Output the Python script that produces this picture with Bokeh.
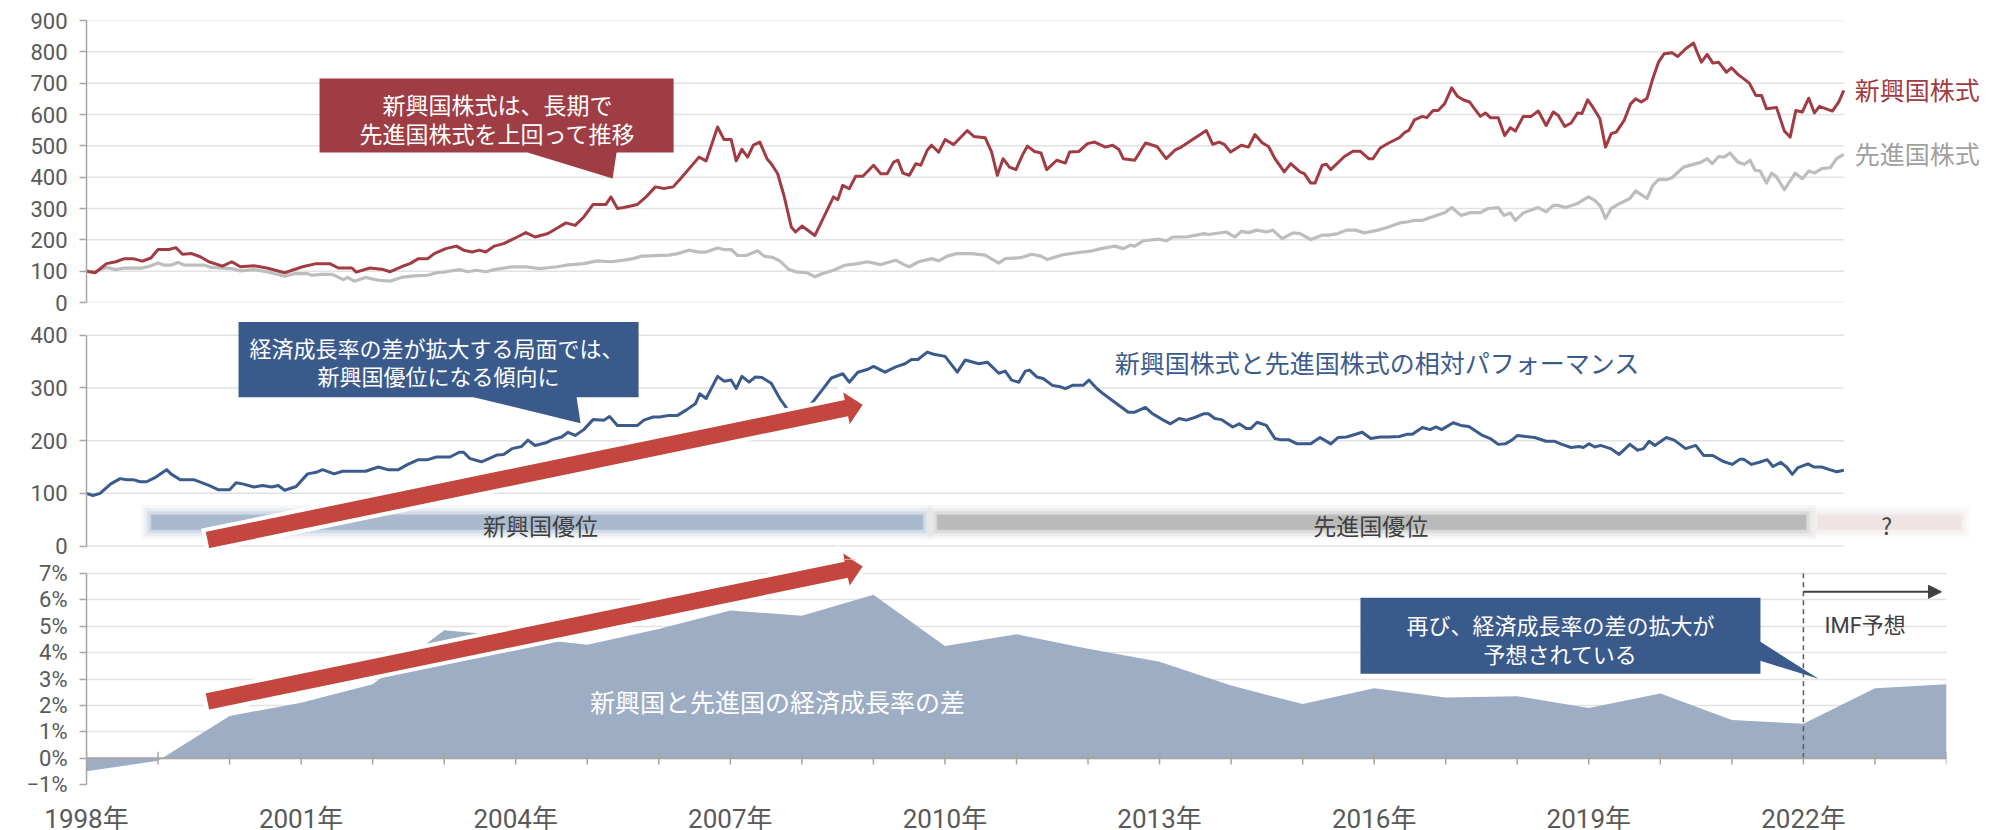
import math
from bokeh.plotting import figure
from bokeh.layouts import column
from bokeh.models import Range1d, FixedTicker, Label, Span, Arrow, NormalHead
from bokeh.embed import file_html
from bokeh.resources import INLINE

# ---------------------------------------------------------------- data
em_dates = [1998.00, 1998.12, 1998.28, 1998.41, 1998.53, 1998.65, 1998.78, 1998.90, 1999.00, 1999.15,
            1999.25, 1999.34, 1999.47, 1999.59, 1999.71, 1999.90, 2000.03, 2000.15, 2000.34, 2000.52,
            2000.77, 2001.02, 2001.21, 2001.40, 2001.52, 2001.71, 2001.77, 2001.96, 2002.15, 2002.24,
            2002.40, 2002.52, 2002.64, 2002.77, 2002.86, 2003.02, 2003.17, 2003.27, 2003.39, 2003.49,
            2003.58, 2003.70, 2003.83, 2004.02, 2004.14, 2004.27, 2004.45, 2004.58, 2004.70, 2004.83,
            2004.95, 2005.08, 2005.26, 2005.33, 2005.42, 2005.51, 2005.70, 2005.82, 2005.95, 2006.07,
            2006.20, 2006.32, 2006.56, 2006.66, 2006.82, 2006.91, 2007.01, 2007.08, 2007.16, 2007.24,
            2007.32, 2007.41, 2007.51, 2007.57, 2007.66, 2007.75, 2007.85, 2007.91, 2008.00, 2008.18,
            2008.25, 2008.44, 2008.50, 2008.57, 2008.66, 2008.75, 2008.85, 2009.00, 2009.10, 2009.19,
            2009.28, 2009.34, 2009.41, 2009.50, 2009.59, 2009.66, 2009.75, 2009.81, 2009.91, 2010.00,
            2010.12, 2010.31, 2010.40, 2010.56, 2010.65, 2010.73, 2010.81, 2010.90, 2010.99, 2011.09,
            2011.15, 2011.25, 2011.34, 2011.42, 2011.56, 2011.68, 2011.74, 2011.87, 2011.99, 2012.09,
            2012.24, 2012.34, 2012.43, 2012.49, 2012.65, 2012.80, 2012.96, 2013.09, 2013.21, 2013.30,
            2013.65, 2013.74, 2013.83, 2013.90, 2013.99, 2014.14, 2014.24, 2014.33, 2014.43, 2014.52,
            2014.61, 2014.74, 2014.83, 2014.96, 2015.02, 2015.11, 2015.17, 2015.27, 2015.33, 2015.39,
            2015.58, 2015.70, 2015.80, 2015.92, 2015.98, 2016.08, 2016.20, 2016.35, 2016.43, 2016.48,
            2016.56, 2016.67, 2016.73, 2016.82, 2016.89, 2016.98, 2017.08, 2017.16, 2017.24, 2017.33,
            2017.40, 2017.48, 2017.55, 2017.62, 2017.73, 2017.82, 2017.90, 2017.97, 2018.08, 2018.19,
            2018.29, 2018.40, 2018.50, 2018.57, 2018.66, 2018.75, 2018.84, 2018.90, 2018.98, 2019.05,
            2019.15, 2019.23, 2019.31, 2019.38, 2019.49, 2019.58, 2019.65, 2019.73, 2019.81, 2019.89,
            2019.97, 2020.05, 2020.16, 2020.24, 2020.35, 2020.46, 2020.51, 2020.57, 2020.65, 2020.73,
            2020.81, 2020.92, 2020.99, 2021.08, 2021.24, 2021.33, 2021.41, 2021.48, 2021.62, 2021.73,
            2021.81, 2021.89, 2021.98, 2022.07, 2022.15, 2022.22, 2022.40, 2022.49, 2022.56]
em_values = [100, 95, 124, 130, 140, 140, 132, 142, 169, 169,
             175, 154, 156, 146, 130, 116, 130, 114, 117, 110,
             95, 114, 124, 124, 110, 110, 97, 110, 105, 98,
             114, 124, 140, 140, 156, 172, 180, 167, 161, 167,
             161, 180, 188, 209, 223, 209, 220, 238, 254, 246,
             273, 313, 313, 337, 300, 303, 313, 337, 369, 364,
             369, 400, 464, 452, 560, 520, 520, 452, 489, 464,
             502, 512, 459, 443, 411, 339, 241, 225, 244, 214,
             247, 337, 328, 374, 363, 403, 403, 438, 411, 411,
             448, 454, 413, 406, 443, 438, 486, 502, 480, 520,
             504, 549, 530, 526, 480, 406, 459, 432, 424, 475,
             499, 482, 477, 424, 454, 445, 480, 482, 507, 512,
             496, 502, 488, 459, 454, 509, 498, 459, 486, 496,
             549, 505, 512, 505, 480, 502, 496, 536, 510, 498,
             459, 417, 443, 417, 411, 381, 381, 438, 441, 424,
             466, 483, 483, 459, 459, 493, 509, 526, 544, 549,
             583, 594, 590, 613, 613, 634, 685, 658, 647, 640,
             618, 594, 605, 590, 590, 533, 558, 547, 594, 594,
             611, 565, 608, 597, 562, 573, 605, 603, 647, 624,
             587, 496, 539, 544, 581, 634, 650, 640, 652, 714,
             767, 794, 797, 785, 810, 828, 799, 767, 792, 764,
             767, 735, 749, 728, 700, 661, 661, 618, 622, 547,
             528, 613, 608, 652, 605, 626, 611, 640, 677]

dm_dates = [1998.00, 1998.12, 1998.28, 1998.41, 1998.53, 1998.78, 1998.90, 1999.00, 1999.09, 1999.18,
            1999.28, 1999.37, 1999.65, 1999.75, 2000.03, 2000.15, 2000.34, 2000.52, 2000.77, 2000.90,
            2001.09, 2001.15, 2001.27, 2001.43, 2001.59, 2001.65, 2001.74, 2001.90, 2002.08, 2002.24,
            2002.40, 2002.58, 2002.77, 2002.89, 2003.02, 2003.21, 2003.33, 2003.45, 2003.58, 2003.70,
            2003.95, 2004.14, 2004.33, 2004.58, 2004.70, 2004.95, 2005.14, 2005.33, 2005.51, 2005.64,
            2005.76, 2006.14, 2006.26, 2006.42, 2006.56, 2006.66, 2006.82, 2006.91, 2007.01, 2007.10,
            2007.22, 2007.38, 2007.47, 2007.60, 2007.69, 2007.82, 2007.91, 2008.07, 2008.18, 2008.28,
            2008.44, 2008.60, 2008.78, 2008.91, 2009.10, 2009.31, 2009.44, 2009.50, 2009.63, 2009.81,
            2009.91, 2010.03, 2010.16, 2010.37, 2010.56, 2010.75, 2010.84, 2011.06, 2011.21, 2011.34,
            2011.43, 2011.62, 2011.81, 2012.06, 2012.18, 2012.37, 2012.49, 2012.59, 2012.65, 2012.77,
            2012.99, 2013.09, 2013.18, 2013.37, 2013.62, 2013.68, 2013.93, 2014.05, 2014.14, 2014.24,
            2014.36, 2014.49, 2014.58, 2014.71, 2014.86, 2014.96, 2015.11, 2015.27, 2015.36, 2015.49,
            2015.61, 2015.74, 2015.86, 2016.05, 2016.20, 2016.35, 2016.45, 2016.56, 2016.67, 2016.78,
            2016.99, 2017.08, 2017.21, 2017.35, 2017.48, 2017.59, 2017.73, 2017.81, 2017.90, 2017.97,
            2018.08, 2018.29, 2018.40, 2018.50, 2018.57, 2018.67, 2018.84, 2018.99, 2019.08, 2019.16,
            2019.23, 2019.31, 2019.43, 2019.57, 2019.65, 2019.81, 2019.89, 2019.97, 2020.08, 2020.16,
            2020.32, 2020.57, 2020.65, 2020.72, 2020.81, 2020.89, 2020.97, 2021.08, 2021.17, 2021.25,
            2021.32, 2021.39, 2021.48, 2021.55, 2021.62, 2021.73, 2021.88, 2021.98, 2022.07, 2022.15,
            2022.25, 2022.37, 2022.46, 2022.56]
dm_values = [100, 98, 112, 105, 110, 110, 117, 126, 119, 119,
             128, 119, 119, 112, 108, 101, 105, 98, 84, 92,
             92, 87, 90, 90, 73, 80, 68, 80, 71, 68,
             80, 85, 87, 95, 98, 105, 98, 103, 98, 105,
             114, 114, 108, 114, 119, 124, 133, 130, 135, 140,
             148, 151, 156, 167, 161, 161, 174, 169, 169, 150,
             150, 165, 148, 143, 133, 105, 98, 95, 82, 92,
             103, 119, 124, 130, 121, 135, 119, 114, 130, 140,
             133, 148, 156, 156, 151, 126, 140, 143, 154, 148,
             137, 151, 158, 165, 172, 180, 172, 183, 180, 197,
             202, 197, 209, 209, 220, 217, 225, 209, 227, 223,
             231, 225, 231, 204, 222, 220, 201, 215, 215, 220,
             231, 231, 222, 231, 241, 254, 257, 262, 262, 271,
             287, 303, 278, 287, 287, 300, 303, 278, 286, 262,
             286, 303, 289, 310, 310, 303, 316, 337, 326, 307,
             268, 300, 316, 332, 356, 332, 374, 392, 392, 398,
             432, 448, 459, 443, 466, 464, 477, 448, 441, 454,
             422, 420, 381, 413, 401, 360, 413, 395, 420, 413,
             427, 430, 459, 473]

rel_dates = [1998.00, 1998.09, 1998.19, 1998.34, 1998.47, 1998.56, 1998.65, 1998.75, 1998.84, 1998.97,
             1999.12, 1999.18, 1999.31, 1999.50, 1999.71, 1999.84, 2000.00, 2000.09, 2000.18, 2000.34,
             2000.46, 2000.59, 2000.68, 2000.77, 2000.93, 2001.09, 2001.21, 2001.30, 2001.46, 2001.58,
             2001.90, 2002.08, 2002.21, 2002.36, 2002.49, 2002.64, 2002.77, 2002.89, 2003.08, 2003.21,
             2003.27, 2003.36, 2003.52, 2003.64, 2003.74, 2003.83, 2003.95, 2004.08, 2004.17, 2004.27,
             2004.42, 2004.51, 2004.64, 2004.73, 2004.83, 2004.95, 2005.08, 2005.23, 2005.31, 2005.42,
             2005.57, 2005.70, 2005.79, 2005.92, 2006.01, 2006.14, 2006.26, 2006.38, 2006.51, 2006.57,
             2006.66, 2006.82, 2006.91, 2007.01, 2007.08, 2007.16, 2007.26, 2007.35, 2007.44, 2007.57,
             2007.69, 2007.79, 2007.96, 2008.13, 2008.28, 2008.41, 2008.57, 2008.66, 2008.78, 2008.91,
             2009.00, 2009.16, 2009.31, 2009.44, 2009.53, 2009.62, 2009.75, 2009.84, 2010.00, 2010.17,
             2010.28, 2010.47, 2010.59, 2010.75, 2010.84, 2010.93, 2011.03, 2011.12, 2011.18, 2011.28,
             2011.37, 2011.50, 2011.59, 2011.68, 2011.78, 2011.93, 2012.01, 2012.12, 2012.21, 2012.37,
             2012.56, 2012.65, 2012.80, 2012.90, 2013.05, 2013.15, 2013.27, 2013.37, 2013.49, 2013.61,
             2013.68, 2013.77, 2013.86, 2014.02, 2014.11, 2014.21, 2014.27, 2014.36, 2014.49, 2014.61,
             2014.68, 2014.80, 2014.92, 2015.11, 2015.24, 2015.39, 2015.49, 2015.61, 2015.83, 2015.95,
             2016.08, 2016.20, 2016.35, 2016.45, 2016.53, 2016.67, 2016.78, 2016.86, 2016.94, 2017.10,
             2017.21, 2017.32, 2017.51, 2017.62, 2017.73, 2017.83, 2017.92, 2018.00, 2018.11, 2018.24,
             2018.40, 2018.51, 2018.62, 2018.75, 2018.86, 2018.92, 2019.00, 2019.08, 2019.16, 2019.30,
             2019.42, 2019.57, 2019.68, 2019.76, 2019.84, 2019.92, 2020.08, 2020.19, 2020.35, 2020.49,
             2020.60, 2020.73, 2020.87, 2021.00, 2021.11, 2021.16, 2021.27, 2021.38, 2021.49, 2021.57,
             2021.68, 2021.76, 2021.84, 2021.92, 2022.06, 2022.14, 2022.25, 2022.36, 2022.46, 2022.56]
rel_values = [100, 96, 100, 118, 128, 126, 126, 122, 122, 131,
              145, 137, 126, 126, 115, 107, 107, 120, 118, 112,
              115, 112, 115, 106, 113, 137, 140, 145, 137, 142,
              142, 150, 145, 145, 155, 164, 164, 169, 169, 178,
              178, 166, 160, 167, 173, 174, 185, 189, 201, 191,
              196, 202, 207, 216, 210, 221, 240, 239, 246, 229,
              229, 229, 239, 245, 245, 248, 248, 258, 270, 289,
              280, 322, 313, 315, 299, 322, 311, 321, 320, 309,
              280, 261, 242, 270, 296, 319, 327, 311, 330, 335,
              341, 330, 340, 346, 354, 354, 368, 364, 360, 330,
              353, 346, 349, 328, 332, 315, 311, 332, 334, 321,
              318, 305, 303, 299, 305, 305, 315, 299, 289, 273,
              254, 254, 263, 251, 239, 232, 242, 239, 244, 251,
              251, 242, 240, 226, 232, 223, 223, 235, 229, 204,
              202, 202, 194, 194, 206, 194, 206, 207, 216, 204,
              207, 207, 208, 212, 212, 225, 221, 226, 221, 234,
              229, 227, 210, 204, 193, 194, 201, 210, 208, 206,
              199, 199, 193, 187, 189, 187, 194, 188, 191, 185,
              174, 193, 182, 185, 199, 191, 206, 201, 185, 191,
              172, 172, 161, 155, 165, 165, 155, 159, 164, 151,
              159, 150, 136, 149, 156, 150, 150, 145, 141, 144]

gdp_years = list(range(1998, 2025))
gdp_gap = [-0.5, -0.1, 1.6, 2.1, 2.8, 4.85, 4.6, 4.3, 4.9, 5.6,
           5.4, 6.2, 4.25, 4.7, 4.15, 3.65, 2.75, 2.05, 2.65, 2.3,
           2.35, 1.9, 2.45, 1.45, 1.3, 2.65, 2.8]
forecast_start = 2022

top_ticks = [0, 100, 200, 300, 400, 500, 600, 700, 800, 900]
mid_ticks = [0, 100, 200, 300, 400]
pct_ticks = [-1, 0, 1, 2, 3, 4, 5, 6, 7]
pct_labels = ["−1%", "0%", "1%", "2%", "3%", "4%", "5%", "6%", "7%"]
year_ticks = [1998, 2001, 2004, 2007, 2010, 2013, 2016, 2019, 2022]
year_labels = ["1998年", "2001年", "2004年", "2007年", "2010年", "2013年", "2016年", "2019年", "2022年"]

# ---------------------------------------------------------------- style
NUM_FONT = "Roboto, 'Noto Sans CJK JP', sans-serif"
JP_FONT = "'Noto Sans CJK JP', sans-serif"
TICK_COLOR = "#595959"
AXIS_COLOR = "#a6a6a6"
GRID_COLOR = "#e2e2e2"
EM_COLOR = "#A13B44"
DM_COLOR = "#BDBDBD"
REL_COLOR = "#3B5B8D"
BOX_RED = "#9F3D45"
BOX_BLUE = "#3A5A8C"
AREA_COLOR = "#9DADC4"
ARROW_RED = "#C4473F"

PX_PER_YEAR = 71.54
X0_PX = 86.0


# helpers converting reference-image pixel positions of annotations to data units
def yr(px):
    return 1998 + (px - X0_PX) / PX_PER_YEAR


def top_v(py):
    return (302 - py) * 900 / 282


def mid_v(py):
    return (545.7 - py) / 0.5263


def bot_v(py):
    return (757.3 - py) / 26.37


def make_fig(x_end, frame_w, y_rng, frame_h, mbt, mbb, mbr, with_xaxis):
    p = figure(frame_width=frame_w, frame_height=frame_h,
               x_range=Range1d(1998, x_end), y_range=Range1d(*y_rng),
               output_backend="svg", toolbar_location=None,
               x_axis_location="below" if with_xaxis else None,
               min_border_left=86, min_border_right=mbr,
               min_border_top=mbt, min_border_bottom=mbb)
    p.outline_line_color = None
    p.background_fill_color = "white"
    p.border_fill_color = "white"
    for g in p.xgrid:
        g.visible = False
    return p


def style_yaxis(p, ticks, bounds, overrides=None):
    ax = p.yaxis[0]
    ax.ticker = FixedTicker(ticks=ticks)
    ax.bounds = bounds
    ax.axis_line_color = AXIS_COLOR
    ax.axis_line_width = 1.5
    ax.major_tick_line_color = AXIS_COLOR
    ax.major_tick_line_width = 1.5
    ax.major_tick_in = 0
    ax.major_tick_out = 7
    ax.minor_tick_line_color = None
    ax.major_label_standoff = 12
    ax.major_label_text_font = NUM_FONT
    ax.major_label_text_font_size = "22px"
    ax.major_label_text_color = TICK_COLOR
    if overrides:
        ax.major_label_overrides = overrides


def jp_label(p, x, y, text, size, color, align="center"):
    p.add_layout(Label(x=x, y=y, text=text, text_font=JP_FONT, text_font_size=size,
                       text_color=color, text_align=align, text_baseline="middle"))


def poly_from_px(pts, yfun):
    return [yr(a) for a, b in pts], [yfun(b) for a, b in pts]


def arrow_pts(tail, tip, half_shaft=10.25, half_head=21.0, head_len=21.6):
    dx, dy = tip[0] - tail[0], tip[1] - tail[1]
    L = math.hypot(dx, dy)
    ux, uy = dx / L, dy / L
    nx, ny = -uy, ux
    bx, by = tip[0] - head_len * ux, tip[1] - head_len * uy
    return [(tail[0] - half_shaft * nx, tail[1] - half_shaft * ny),
            (bx - half_shaft * nx, by - half_shaft * ny),
            (bx - half_head * nx, by - half_head * ny),
            tip,
            (bx + half_head * nx, by + half_head * ny),
            (bx + half_shaft * nx, by + half_shaft * ny),
            (tail[0] + half_shaft * nx, tail[1] + half_shaft * ny)]


def band(p, x0, x1, yc, color):
    dxp = 1.0 / PX_PER_YEAR
    dyp = 1.0 / 0.5263
    half = 7
    for pad, alpha in [(10, 0.10), (7, 0.15), (4, 0.25), (1, 0.45), (0, 0.55)]:
        p.quad(left=x0 - pad * dxp, right=x1 + pad * dxp,
               bottom=yc - (half + pad) * dyp, top=yc + (half + pad) * dyp,
               fill_color=color, fill_alpha=alpha, line_color=None)


UPPER_ARROW = arrow_pts((205, 540), (865, 404))
LOWER_ARROW = arrow_pts((205, 701), (865, 565))

# ---------------------------------------------------------------- top panel
p1 = make_fig(2024.75, 1914, (0, 900), 282, 20, 17, 0, False)
for g in p1.ygrid:
    g.visible = False
style_yaxis(p1, top_ticks, (0, 900))
p1.segment(x0=[em_dates[0]] * len(top_ticks), y0=top_ticks,
           x1=[em_dates[-1]] * len(top_ticks), y1=top_ticks,
           line_color=GRID_COLOR, line_width=1.5)
p1.line(dm_dates, dm_values, line_color=DM_COLOR, line_width=3.2, line_join="round")
p1.line(em_dates, em_values, line_color=EM_COLOR, line_width=3, line_join="round")

cx, cy = poly_from_px([(319, 78), (673, 78), (673, 152), (616, 152), (612, 178),
                       (527, 152), (319, 152)], top_v)
p1.patch(cx, cy, fill_color=BOX_RED, line_color=None)
jp_label(p1, yr(497), top_v(103), "新興国株式は、長期で", "23px", "white")
jp_label(p1, yr(497), top_v(132), "先進国株式を上回って推移", "23px", "white")
jp_label(p1, yr(1854), top_v(88), "新興国株式", "25px", EM_COLOR, "left")
jp_label(p1, yr(1854), top_v(152), "先進国株式", "25px", "#a0a0a0", "left")

# ---------------------------------------------------------------- middle panel
p2 = make_fig(2024.75, 1914, (-25.5, 430), 240, 0, 0, 0, False)
for g in p2.ygrid:
    g.visible = False
style_yaxis(p2, mid_ticks, (0, 400))
p2.segment(x0=[rel_dates[0]] * len(mid_ticks), y0=mid_ticks,
           x1=[rel_dates[-1]] * len(mid_ticks), y1=mid_ticks,
           line_color=GRID_COLOR, line_width=1.5)
band(p2, yr(151), yr(922), mid_v(522), "#9DAEC6")
band(p2, yr(937), yr(1805), mid_v(522), "#AFAFAF")
band(p2, yr(1817), yr(1960), mid_v(522), "#EDE0E0")
jp_label(p2, yr(540), mid_v(525), "新興国優位", "23px", "#404040")
jp_label(p2, yr(1370), mid_v(525), "先進国優位", "23px", "#404040")
jp_label(p2, yr(1886), mid_v(525), "?", "23px", "#404040")

p2.line(rel_dates, rel_values, line_color=REL_COLOR, line_width=3, line_join="round")

bx, by = poly_from_px([(238, 322), (638, 322), (638, 397), (576, 397), (580, 423),
                       (473, 397), (238, 397)], mid_v)
p2.patch(bx, by, fill_color=BOX_BLUE, line_color=None)
jp_label(p2, yr(436), mid_v(347), "経済成長率の差が拡大する局面では、", "22px", "white")
jp_label(p2, yr(438), mid_v(375), "新興国優位になる傾向に", "22px", "white")
jp_label(p2, yr(1114), mid_v(362), "新興国株式と先進国株式の相対パフォーマンス", "25px",
         REL_COLOR, "left")

for pts in (UPPER_ARROW, LOWER_ARROW):
    ax_, ay_ = poly_from_px(pts, mid_v)
    p2.patch(ax_, ay_, fill_color=ARROW_RED, line_color="white", line_width=4, line_join="miter")

# ---------------------------------------------------------------- bottom panel
p3 = make_fig(2024, 1860, (-1, 7.532), 225, 0, 0, 54, True)
style_yaxis(p3, pct_ticks, (-1, 7), dict(zip(pct_ticks, pct_labels)))
for g in p3.ygrid:
    g.grid_line_color = GRID_COLOR
    g.grid_line_width = 1.5
xa = p3.xaxis[0]
xa.ticker = FixedTicker(ticks=year_ticks)
xa.major_label_overrides = dict(zip(year_ticks, year_labels))
xa.axis_line_color = None
xa.major_tick_line_color = None
xa.minor_tick_line_color = None
xa.major_label_standoff = 13
xa.major_label_text_font = NUM_FONT
xa.major_label_text_font_size = "26px"
xa.major_label_text_color = TICK_COLOR

p3.varea(x=gdp_years, y1=[0] * len(gdp_years), y2=gdp_gap, fill_color=AREA_COLOR)
p3.add_layout(Span(location=0, dimension="width", line_color=AXIS_COLOR, line_width=2))
p3.segment(x0=gdp_years, y0=[-0.24] * len(gdp_years), x1=gdp_years, y1=[0.24] * len(gdp_years),
           line_color=AXIS_COLOR, line_width=1.5)
p3.segment(x0=[forecast_start], y0=[0], x1=[forecast_start], y1=[7],
           line_color="#595959", line_width=1.5, line_dash="5 4")
p3.add_layout(Arrow(end=NormalHead(size=13, fill_color="#404040", line_color="#404040"),
                    x_start=forecast_start, y_start=bot_v(591), x_end=yr(1941), y_end=bot_v(591),
                    line_color="#404040", line_width=2))
p3.add_layout(Label(x=yr(1824), y=bot_v(625), text="IMF予想", text_font=NUM_FONT,
                    text_font_size="22px", text_color="#404040", text_align="left",
                    text_baseline="middle"))

cx2, cy2 = poly_from_px([(1360, 597), (1760, 597), (1760, 641), (1818, 678), (1760, 660),
                         (1760, 673), (1360, 673)], bot_v)
p3.patch(cx2, cy2, fill_color=BOX_BLUE, line_color=None)
jp_label(p3, yr(1560), bot_v(623), "再び、経済成長率の差の拡大が", "22px", "white")
jp_label(p3, yr(1560), bot_v(652), "予想されている", "22px", "white")
jp_label(p3, yr(777), bot_v(700), "新興国と先進国の経済成長率の差", "25px", "white")

lx, ly = poly_from_px(LOWER_ARROW, bot_v)
p3.patch(lx, ly, fill_color=ARROW_RED, line_color="white", line_width=4, line_join="miter")

layout = column(p1, p2, p3, spacing=0)
open("out.html", "w").write(file_html(layout, INLINE))
